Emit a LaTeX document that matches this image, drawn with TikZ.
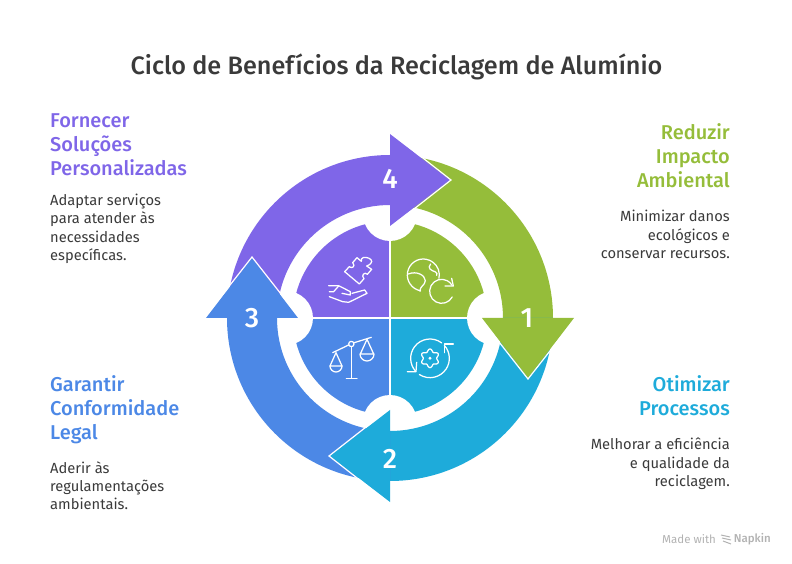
\documentclass[tikz,border=0pt]{standalone}
\usepackage{fontspec}
\setmainfont{Fira Sans}[BoldFont={Fira Sans Medium}]
\usetikzlibrary{arrows.meta, positioning}
\definecolor{ciclopurple}{HTML}{7F66E8}
\definecolor{ciclogreen}{HTML}{95BD3A}
\definecolor{ciclocyan}{HTML}{1EABDA}
\definecolor{cicloblue}{HTML}{4C88E6}
\definecolor{ciclotext}{HTML}{3A3A3A}
\tikzset{
  heading/.style={font=\fontsize{20}{24}\selectfont\bfseries, inner sep=0pt},
  body/.style={font=\fontsize{14.7}{18.3}\selectfont, text=ciclotext, inner sep=0pt},
  number/.style={font=\fontsize{28}{28}\selectfont\bfseries, text=white, inner sep=0pt},
  icon/.style={draw=white, line width=1.25pt, line cap=round, line join=round},
}
\begin{document}
\begin{tikzpicture}[x=1pt, y=1pt]
      \useasboundingbox (-390,-246) rectangle (402,318);
      % titolo
      \node[font=\fontsize{25.2}{27}\selectfont\bfseries, text=ciclotext, inner sep=0pt] (title) at (6.5,251) {Ciclo de Benefícios da Reciclagem de Alumínio};
      % quadranti interni
      \fill[ciclogreen] (0,0) -- (97,0) arc (0:90:97) -- cycle;
      \fill[ciclocyan] (0,0) -- (0,-97) arc (270:360:97) -- cycle;
      \fill[cicloblue] (0,0) -- (-97,0) arc (180:270:97) -- cycle;
      \fill[ciclopurple] (0,0) -- (0,97) arc (90:180:97) -- cycle;
      \draw[white, line width=2pt] (-100,0) -- (100,0) (0,-100) -- (0,100);
      % tacche
      \foreach \ang in {0,90,180,270} \fill[white] (\ang:104) circle (27);
      % anello
      \fill[ciclogreen] (90:163) arc (90:0:163) -- (0:113) arc (0:90:113) -- cycle;
      \fill[ciclocyan] (0:163) arc (0:-90:163) -- (-90:113) arc (-90:0:113) -- cycle;
      \fill[cicloblue] (-90:163) arc (-90:-180:163) -- (180:113) arc (180:270:113) -- cycle;
      \fill[ciclopurple] (180:163) arc (180:90:163) -- (90:113) arc (90:180:113) -- cycle;
      % punte
      \foreach \ang/\col in {0/ciclopurple,-90/ciclogreen,-180/ciclocyan,-270/cicloblue}{
        \fill[\col, rotate=\ang] (0,184) -- (60,138) -- (0,92) -- cycle;
        \draw[white, line width=1.2pt, rotate=\ang] (1,185) -- (61,138) -- (1,91);
      }
      % numeri
      \node[number] (n1) at (137,0) {1};
      \node[number] (n2) at (0,-141) {2};
      \node[number] (n3) at (-138,0) {3};
      \node[number] (n4) at (0,139) {4};
      % icona mano e puzzle
      \begin{scope}[shift={(-68,68)}, xscale=1/3, yscale=-1/3]
        \draw[icon] (68,65) -- (82,50) .. controls (90,58) and (102,48) .. (92,38) -- (105,23) -- (118,34) .. controls (112,8) and (178,30) .. (134,48) -- (149,58) -- (136,73) .. controls (128,64) and (116,76) .. (126,86) -- (112,102) -- cycle;
        \draw[icon] (20,107) -- (50,107) -- (85,125) -- (85,135) -- (60,130);
        \draw[icon] (22,140) -- (62,155) -- (80,157) -- (135,130) -- (128,120) -- (90,130);
        \draw[icon] (22,125) -- (35,125) -- (50,108);
      \end{scope}
      % icona globo
      \begin{scope}[shift={(10,68)}, xscale=1/3, yscale=-1/3]
        \draw[icon] (70,75) ++(100:48) arc (100:372:48);
        \draw[icon] (125,124) ++(28:36) arc (28:329:36);
        \draw[icon] (155,85) -- (160,108) -- (135,108);
        \draw[icon] (25,72) .. controls (50,62) and (75,75) .. (76,92) .. controls (76,105) and (58,110) .. (60,124);
        \draw[icon] (92,42) .. controls (80,55) and (95,62) .. (105,65) .. controls (112,68) and (112,72) .. (110,76);
      \end{scope}
      % icona bilancia
      \begin{scope}[shift={(-68,-12)}, xscale=1/3, yscale=-1/3]
        \draw[icon] (88,50) -- (88,145) (73,145) -- (105,145);
        \draw[icon] (88,42) circle (8);
        \draw[icon] (32,68) -- (80,45) (97,38) -- (148,22);
        \draw[icon] (24,108) -- (42,68) -- (60,108) (24,108) -- (60,108);
        \draw[icon] (24,108) arc (180:0:18);
        \draw[icon] (115,72) -- (135,28) -- (155,72) -- cycle;
        \draw[icon] (114,72) arc (180:0:21);
      \end{scope}
      % icona ingranaggio
      \begin{scope}[shift={(10,-12)}, xscale=1/3, yscale=-1/3]
        \draw[icon] (90,85) ++(307:58) arc (307:138:58);
        \draw[icon] (90,85) ++(123:58) arc (123:-42:58);
        \draw[icon] (22,125) -- (48,125) -- (50,97);
        \draw[icon] (160,42) -- (133,42) -- (133,68);
        \draw[icon] plot[domain=0:360, samples=73, smooth] ({90+(24-4*cos(6*\x))*cos(\x)},{85+(24-4*cos(6*\x))*sin(\x)});
        \fill[white] (90,85) circle (5);
      \end{scope}
      % testi
      \node[heading, text=ciclopurple, align=left, anchor=north west] (h4) at (-340,205) {Fornecer\\Soluções\\Personalizadas};
      \node[body, align=left, below=18.5pt of h4.south west, anchor=north west] (t4) {Adaptar serviços\\para atender às\\necessidades\\específicas.};
      \node[heading, text=ciclogreen, align=right, anchor=north east] (h1) at (340,195) {Reduzir\\Impacto\\Ambiental};
      \node[body, align=right, below=22.5pt of h1.south east, anchor=north east] (t1) {Minimizar danos\\ecológicos e\\conservar recursos.};
      \node[heading, text=cicloblue, align=left, anchor=north west] (h3) at (-340,-57) {Garantir\\Conformidade\\Legal};
      \node[body, align=left, below=17.5pt of h3.south west, anchor=north west] (t3) {Aderir às\\regulamentações\\ambientais.};
      \node[heading, text=ciclocyan, align=right, anchor=north east] (h2) at (340,-57) {Otimizar\\Processos};
      \node[body, align=right, below=22.5pt of h2.south east, anchor=north east] (t2) {Melhorar a eficiência\\e qualidade da\\reciclagem.};
      % marca
      \node[font=\fontsize{11.5}{12}\selectfont, text=black!30, inner sep=0pt, anchor=west] (made) at (272,-221.5) {Made with};
      \node[font=\fontsize{11.5}{12}\selectfont\bfseries, text=black!30, inner sep=0pt, anchor=east] (napkin) at (381,-221.5) {Napkin};
      \draw[black!30, line width=1pt] (331,-217) -- (340,-219) (332,-220) -- (341,-222) (333,-223) -- (341,-226);
    \end{tikzpicture}
\end{document}
